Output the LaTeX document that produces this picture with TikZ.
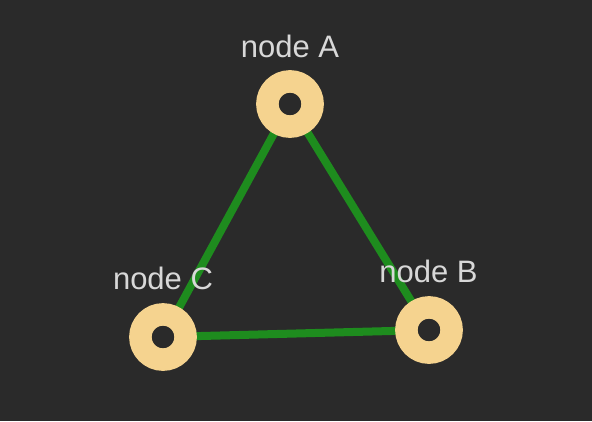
\documentclass[tikz,border=0pt]{standalone}
\usepackage{fontspec}
\setmainfont{Liberation Sans}
\usetikzlibrary{backgrounds}
\definecolor{gbg}{HTML}{2A2A2A}
\definecolor{gring}{HTML}{F5D38F}
\definecolor{gedge}{HTML}{1E8C1E}
\definecolor{glabel}{HTML}{D8D8D8}
\tikzset{
  ring/.style   = {circle, draw=gring, fill=gbg, line width=22.5pt,
                   minimum size=45.2pt, inner sep=0pt},
  nlabel/.style = {anchor=base, text=glabel, inner sep=0pt,
                   font=\fontsize{31}{36}\selectfont},
  link/.style   = {draw=gedge, line width=8pt},
}
\begin{document}
\begin{tikzpicture}[x=1pt, y=-1pt]

  \useasboundingbox (0,0) rectangle (592,421);
  \begin{pgfonlayer}{background}
    \fill[gbg] (0,0) rectangle (592,421);
  \end{pgfonlayer}

  % ---------- nodes -------------------------------------------------------
  \node[ring] (a) at (290,104) {};
  \node[ring] (b) at (429,330) {};
  \node[ring] (c) at (163,337) {};

  \node[nlabel] (la) at (290,57) {node A};
  \node[nlabel] (lb) at (428.5,282) {node B};
  \node[nlabel] (lc) at (163,289.5) {node C};

  % ---------- edges -------------------------------------------------------
  \begin{pgfonlayer}{background}
    \draw[link] (a.center) -- (c.center);
    \draw[link] (c.center) -- (b.center);
    \draw[link] (a.center) -- (b.center);
  \end{pgfonlayer}

\end{tikzpicture}
\end{document}
